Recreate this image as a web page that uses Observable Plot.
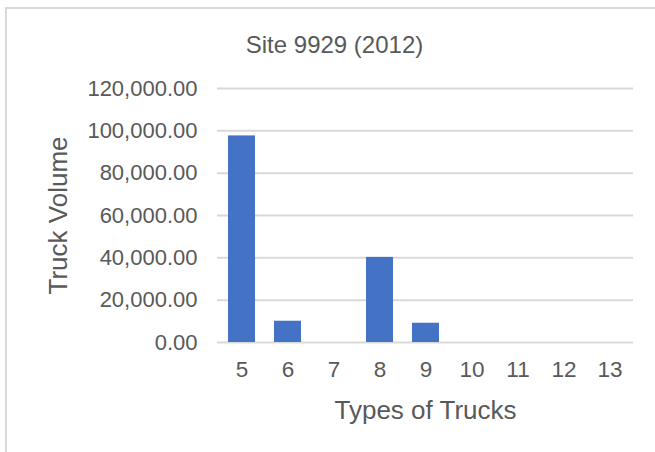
<!DOCTYPE html>
<html>
<head>
<meta charset="utf-8">
<script src="https://cdn.jsdelivr.net/npm/d3@7"></script>
<script src="https://cdn.jsdelivr.net/npm/@observablehq/plot@0.6"></script>
<style>
  html, body { margin: 0; padding: 0; background: #fff; }
  #wrap { position: relative; width: 655px; height: 452px; overflow: hidden; }
  #frame { position: absolute; left: 5px; top: 7px; right: -10px; bottom: -10px;
           border-top: 2px solid #d9d9d9; border-left: 2px solid #d9d9d9; }
  #chart { position: absolute; left: 0; top: 0; }
</style>
</head>
<body>
<div id="wrap"><div id="frame"></div><div id="chart"></div></div>
<script>
const categories = ["5", "6", "7", "8", "9", "10", "11", "12", "13"];
const volumes = [97600, 10050, 0, 40200, 9100, 0, 0, 0, 0];
const yTicks = [0, 20000, 40000, 60000, 80000, 100000, 120000];
const chartTitle = "Site 9929 (2012)";
const xTitle = "Types of Trucks";
const yTitle = "Truck Volume";

const data = categories.map((c, i) => ({type: c, volume: volumes[i]}));
const font = "Liberation Sans, Arial, Helvetica, sans-serif";
const grey = "#595959";

const chart = Plot.plot({
  width: 655,
  height: 452,
  marginLeft: 217,
  marginRight: 22,
  marginTop: 88,
  marginBottom: 110,
  style: {fontFamily: font, fontSize: "22px", color: grey, background: "transparent", overflow: "visible"},
  x: {domain: categories, paddingInner: 0.42, paddingOuter: 0.21, label: null},
  y: {domain: [0, 120000], label: null},
  marks: [
    Plot.ruleY(yTicks, {stroke: "#d9d9d9", strokeWidth: 2}),
    Plot.barY(data, {x: "type", y: "volume", fill: "#4472C4"}),
    Plot.axisX({tickSize: 0, tickPadding: 19, fontSize: 22.5, fill: grey, label: null}),
    Plot.axisY({ticks: yTicks, tickSize: 0, tickPadding: 20, tickFormat: d3.format(",.2f"), fontSize: 22, fill: grey, label: null}),
    Plot.text([xTitle], {frameAnchor: "bottom", dy: 68, fontSize: 26, fill: grey, lineAnchor: "middle", textAnchor: "middle"}),
    Plot.text([yTitle], {frameAnchor: "left", dx: -159, rotate: -90, fontSize: 26, fill: grey, lineAnchor: "middle", textAnchor: "middle"}),
    Plot.text([chartTitle], {frameAnchor: "top", dx: -91, dy: -43, fontSize: 24, fill: grey, lineAnchor: "middle", textAnchor: "middle"})
  ]
});
document.getElementById("chart").appendChild(chart);
</script>
</body>
</html>
